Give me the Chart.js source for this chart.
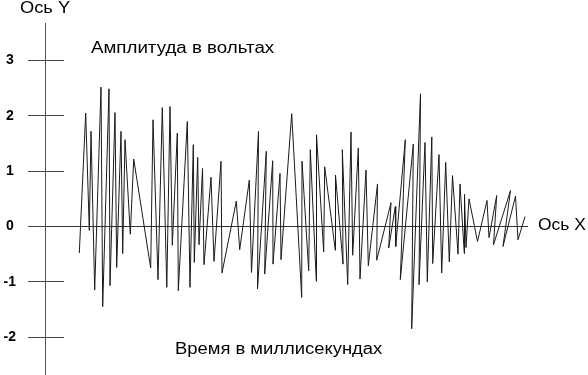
<!DOCTYPE html>
<html>
<head>
<meta charset="utf-8">
<script src="https://cdn.jsdelivr.net/npm/chart.js@4.4.1/dist/chart.umd.min.js"></script>
<style>
  html, body { margin: 0; padding: 0; background: #ffffff; }
  #wrap { position: relative; width: 588px; height: 375px; overflow: hidden; }
  canvas { position: absolute; left: 0; top: 0; }
  .lbl { position: absolute; font-family: "Liberation Sans", Arial, sans-serif; font-size: 16px; line-height: 16px; color: #000; white-space: nowrap; transform-origin: 0 50%; }
</style>
</head>
<body>
<div id="wrap">
  <canvas id="c" width="588" height="375"></canvas>
  <div class="lbl" id="ly" style="left:20px; top:0px; transform:scaleX(1.14);">Ось Y</div>
  <div class="lbl" id="lx" style="left:538px; top:217px; transform:scaleX(1.09);">Ось X</div>
  <div class="lbl" id="la" style="left:91px; top:40px; transform:scaleX(1.17);">Амплитуда в вольтах</div>
  <div class="lbl" id="lt" style="left:175px; top:341px; transform:scaleX(1.15);">Время в миллисекундах</div>
</div>
<script>
// time (ms, arbitrary units along the X axis)
const timeValues = [
  34.3, 40.7, 44.3, 46, 49.7, 56, 57.7, 64, 65, 70,
  71.7, 76, 77.7, 80, 85.3, 88.7, 105.7, 108, 113, 117.3,
  121.8, 125, 127.3, 132.3, 133.3, 142.3, 145, 148.3, 149.3, 152.7,
  154, 157.5, 159, 166, 169, 176, 177, 191.3, 194.7, 204.3,
  206.5, 213.5, 212.5, 221.3, 219.7, 227.7, 228, 235, 236, 246.7,
  256.7, 257, 263.7, 265.3, 271.3, 271.5, 278.7, 279.7, 290.3, 290.5,
  298, 297.3, 302.7, 306, 307.7, 313.3, 315, 321, 323.3, 332.5,
  331.7, 346, 343.7, 350.3, 350.7, 360.3, 355.3, 368.3, 366.7, 375.5,
  374, 380, 382.3, 386.8, 387.7, 394, 396.7, 400.7, 404.3, 407.5,
  413, 415, 419.3, 419.5, 421, 424, 432.5, 442, 444, 451.7,
  448.5, 465.5, 458, 470.5, 473, 480
];
// amplitude (volts)
const voltValues = [
  -0.48, 2.05, -0.07, 1.72, -1.15, 2.52, -1.45, 2.49, -1.07, 2.06,
  -0.74, 1.72, -0.49, 1.57, -0.14, 1.22, -0.75, 1.93, -0.96, 2.15,
  -1.10, 2.17, -0.34, 1.69, -1.16, 1.90, -1.10, 1.48, -0.65, 1.25,
  -0.33, 1.05, -0.69, 0.89, -0.63, 1.18, -0.84, 0.46, -0.42, 0.84,
  -0.83, 1.72, -1.13, 1.36, -0.86, 1.19, -0.68, 0.96, -0.60, 2.04,
  -1.28, 1.18, -0.80, 1.39, -0.99, 1.66, -0.46, 1.08, -0.43, 0.93,
  -0.68, 1.39, -1.05, 1.71, -0.52, 1.42, -0.95, 1.02, -0.71, 0.77,
  -0.61, 0.43, -0.39, 0.36, -0.36, 1.57, -0.96, 1.49, -1.85, 2.40,
  -1.05, 1.52, -1.00, 1.62, -0.67, 1.30, -0.84, 1.16, -0.64, 0.92,
  -0.50, 0.77, -0.49, 0.58, -0.38, 0.50, -0.27, 0.47, -0.20, 0.56,
  -0.33, 0.65, -0.36, 0.55, -0.24, 0.18
];
// Y tick labels
const yTickValues = [-2, -1, 0, 1, 2, 3];

const points = timeValues.map((t, i) => ({ x: t, y: voltValues[i] }));

const crossTicks = {
  id: 'crossTicks',
  afterDraw(chart) {
    const ys = chart.scales.y;
    const ctx = chart.ctx;
    const x0 = chart.chartArea.left;
    ctx.save();
    ctx.strokeStyle = '#444';
    ctx.lineWidth = 1;
    yTickValues.forEach(v => {
      const py = Math.round(ys.getPixelForValue(v) - 0.5) + 0.5;
      ctx.beginPath();
      ctx.moveTo(x0 - 17, py);
      ctx.lineTo(v === 0 ? x0 : x0 + 19, py);
      ctx.stroke();
    });
    ctx.restore();
  }
};

new Chart(document.getElementById('c'), {
  type: 'line',
  data: {
    datasets: [{
      data: points,
      borderColor: '#1a1a1a',
      borderWidth: 1,
      pointRadius: 0,
      tension: 0,
      fill: false
    }]
  },
  options: {
    responsive: false,
    animation: false,
    layout: { padding: { left: 0, right: 60, top: 23, bottom: 0 } },
    plugins: { legend: { display: false }, tooltip: { enabled: false } },
    scales: {
      x: {
        type: 'linear',
        display: false,
        min: 0,
        max: 483
      },
      y: {
        type: 'linear',
        min: -2.685,
        max: 3.68,
        afterBuildTicks: (scale) => { scale.ticks = yTickValues.map(v => ({ value: v })); },
        afterFit: (scale) => { scale.width = 45; scale.paddingTop = 0; scale.paddingBottom = 0; },
        border: { display: true, color: '#555', width: 1 },
        grid: {
          drawOnChartArea: true,
          drawTicks: false,
          color: (c) => (c.tick && c.tick.value === 0) ? '#333' : 'rgba(0,0,0,0)',
          lineWidth: 1
        },
        ticks: {
          padding: 29,
          crossAlign: 'center',
          color: '#000',
          font: { family: '"Liberation Sans", Arial, sans-serif', size: 14, weight: 'bold' },
          callback: (v) => String(v)
        }
      }
    }
  },
  plugins: [crossTicks]
});
</script>
</body>
</html>
